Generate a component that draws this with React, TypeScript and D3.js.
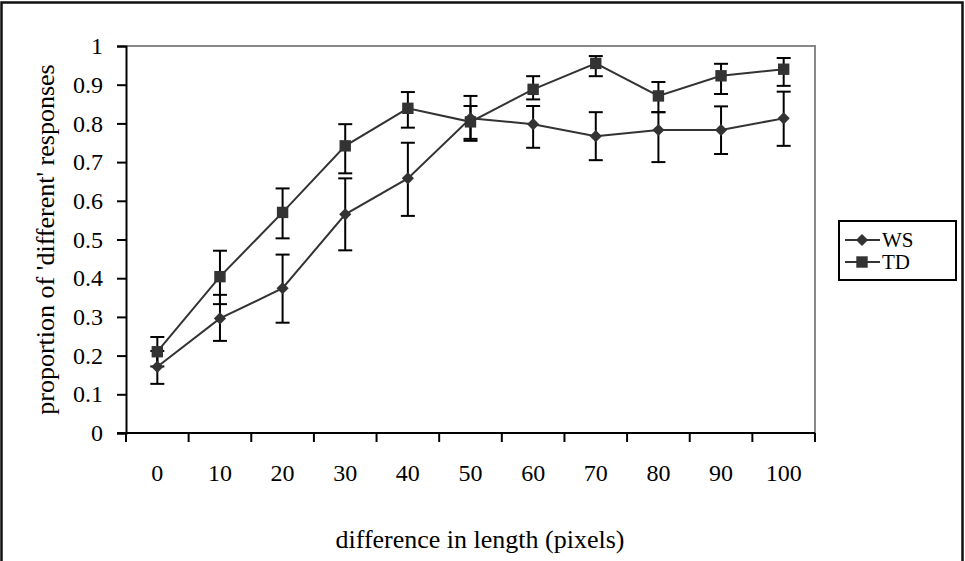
import React, { useEffect, useRef } from 'react';
import * as d3 from 'd3';

// x categories (difference in length, pixels)
const categories = ['0', '10', '20', '30', '40', '50', '60', '70', '80', '90', '100'];
const yTicks = [0, 0.1, 0.2, 0.3, 0.4, 0.5, 0.6, 0.7, 0.8, 0.9, 1];

// WS group
const wsMean = [0.171, 0.296, 0.374, 0.565, 0.658, 0.813, 0.798, 0.767, 0.783, 0.783, 0.813];
const wsLow = [0.127, 0.238, 0.285, 0.472, 0.561, 0.755, 0.737, 0.705, 0.700, 0.721, 0.742];
const wsHigh = [0.212, 0.357, 0.461, 0.658, 0.750, 0.871, 0.845, 0.829, 0.829, 0.844, 0.882];

// TD group
const tdMean = [0.210, 0.404, 0.570, 0.742, 0.839, 0.804, 0.888, 0.955, 0.871, 0.923, 0.940];
const tdLow = [0.172, 0.333, 0.503, 0.671, 0.789, 0.760, 0.862, 0.922, 0.829, 0.876, 0.897];
const tdHigh = [0.248, 0.471, 0.632, 0.798, 0.881, 0.845, 0.922, 0.974, 0.907, 0.954, 0.969];

const seriesNames = ['WS', 'TD'];

const App = () => {
  const svgRef = useRef<SVGSVGElement>(null);

  useEffect(() => {
    const svgWidth = 965;
    const svgHeight = 561;
    const plot = { left: 126, top: 46, right: 815, bottom: 433 };
    const font = '"Liberation Serif", "Times New Roman", serif';

    const svg = d3.select(svgRef.current)
      .attr('width', svgWidth)
      .attr('height', svgHeight)
      .style('background', '#fff');

    svg.selectAll('*').remove();

    // outer frame
    svg.append('rect')
      .attr('x', 1.5)
      .attr('y', 2.5)
      .attr('width', 961)
      .attr('height', 562)
      .attr('fill', 'none')
      .attr('stroke', '#111')
      .attr('stroke-width', 2.5);

    const xScale = d3.scaleBand()
      .domain(categories)
      .range([plot.left, plot.right]);

    const yScale = d3.scaleLinear()
      .domain([0, 1])
      .range([plot.bottom, plot.top]);

    // plot area top and right borders (grey)
    svg.append('path')
      .attr('d', `M${plot.left},${plot.top}H${plot.right}V${plot.bottom}`)
      .attr('fill', 'none')
      .attr('stroke', '#888')
      .attr('stroke-width', 2);

    // y axis
    const yAxis = svg.append('g')
      .attr('transform', `translate(${plot.left},0)`)
      .call(d3.axisLeft(yScale).tickValues(yTicks).tickSize(9).tickPadding(14)
        .tickFormat(d => d3.format('')(+d)));
    yAxis.select('.domain').attr('stroke', '#000').attr('stroke-width', 2);
    yAxis.selectAll('.tick line').attr('stroke', '#000').attr('stroke-width', 2);
    yAxis.selectAll('.tick text')
      .attr('fill', '#000')
      .style('font-family', font)
      .style('font-size', '24px');

    // x axis: ticks on category boundaries
    const boundaries = categories.map(c => xScale(c) as number).concat([plot.right]);
    const xAxis = svg.append('g');
    xAxis.append('line')
      .attr('x1', plot.left - 9)
      .attr('x2', plot.right)
      .attr('y1', plot.bottom)
      .attr('y2', plot.bottom)
      .attr('stroke', '#000')
      .attr('stroke-width', 2);
    xAxis.selectAll('line.tick')
      .data(boundaries)
      .join('line')
      .attr('class', 'tick')
      .attr('x1', d => d)
      .attr('x2', d => d)
      .attr('y1', plot.bottom)
      .attr('y2', plot.bottom + 9)
      .attr('stroke', '#000')
      .attr('stroke-width', 2);
    xAxis.selectAll('text')
      .data(categories)
      .join('text')
      .attr('x', d => (xScale(d) as number) + xScale.bandwidth() / 2)
      .attr('y', 481)
      .attr('text-anchor', 'middle')
      .style('font-family', font)
      .style('font-size', '24px')
      .text(d => d);

    // axis titles
    svg.append('text')
      .attr('x', 480)
      .attr('y', 548)
      .attr('text-anchor', 'middle')
      .style('font-family', font)
      .style('font-size', '26px')
      .text('difference in length (pixels)');

    svg.append('text')
      .attr('transform', `translate(54,${(plot.top + plot.bottom) / 2}) rotate(-90)`)
      .attr('text-anchor', 'middle')
      .style('font-family', font)
      .style('font-size', '26px')
      .text("proportion of 'different' responses");

    const cx = (i: number) => (xScale(categories[i]) as number) + xScale.bandwidth() / 2;
    const line = d3.line<number>()
      .x((d, i) => cx(i))
      .y(d => yScale(d));

    const diamond = d3.symbol().type(d3.symbolDiamond2).size(95);
    const square = d3.symbol().type(d3.symbolSquare).size(130);

    const series = [
      { name: seriesNames[0], mean: wsMean, low: wsLow, high: wsHigh, symbol: diamond },
      { name: seriesNames[1], mean: tdMean, low: tdLow, high: tdHigh, symbol: square },
    ];

    series.forEach(s => {
      // error bars
      const eb = svg.append('g').attr('stroke', '#000').attr('stroke-width', 2);
      s.mean.forEach((m, i) => {
        const x = cx(i);
        eb.append('line')
          .attr('x1', x).attr('x2', x)
          .attr('y1', yScale(s.low[i])).attr('y2', yScale(s.high[i]));
        [s.low[i], s.high[i]].forEach(v => {
          eb.append('line')
            .attr('x1', x - 7).attr('x2', x + 7)
            .attr('y1', yScale(v)).attr('y2', yScale(v));
        });
      });
    });

    series.forEach(s => {
      svg.append('path')
        .datum(s.mean)
        .attr('fill', 'none')
        .attr('stroke', '#333')
        .attr('stroke-width', 2)
        .attr('d', line);
      svg.append('g')
        .selectAll('path')
        .data(s.mean)
        .join('path')
        .attr('transform', (d, i) => `translate(${cx(i)},${yScale(d)})`)
        .attr('d', s.symbol() as string)
        .attr('fill', '#333');
    });

    // legend
    const legend = svg.append('g');
    legend.append('rect')
      .attr('x', 839)
      .attr('y', 221)
      .attr('width', 117)
      .attr('height', 59)
      .attr('fill', '#fff')
      .attr('stroke', '#000')
      .attr('stroke-width', 2);
    series.forEach((s, i) => {
      const y = 240 + i * 22;
      legend.append('line')
        .attr('x1', 845).attr('x2', 880)
        .attr('y1', y).attr('y2', y)
        .attr('stroke', '#333')
        .attr('stroke-width', 2);
      legend.append('path')
        .attr('transform', `translate(862,${y})`)
        .attr('d', s.symbol() as string)
        .attr('fill', '#333');
      legend.append('text')
        .attr('x', 882)
        .attr('y', y + 7)
        .style('font-family', font)
        .style('font-size', '21px')
        .text(s.name);
    });
  }, []);

  return <svg ref={svgRef} style={{ position: 'fixed', left: 0, top: 0 }}></svg>;
};

export default App;
